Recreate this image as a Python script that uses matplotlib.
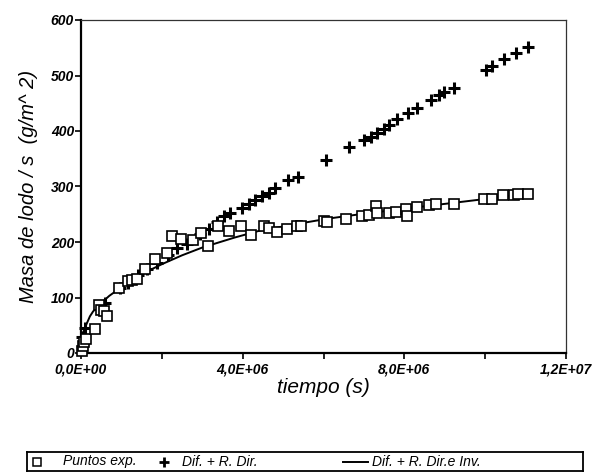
import matplotlib
matplotlib.use("Agg")
import matplotlib.pyplot as plt
from matplotlib.lines import Line2D

plt.rcParams['font.family'] = ['Liberation Sans', 'DejaVu Sans']

# experimental points (tiempo in 1e6 s, masa g/m^2)
exp_t = [0.02, 0.05, 0.08, 0.12, 0.35, 0.45, 0.50, 0.58, 0.64, 0.95, 1.16, 1.26, 1.38,
         1.59, 1.83, 2.12, 2.25, 2.47, 2.78, 2.97, 3.14, 3.38, 3.65, 3.97, 4.21, 4.52,
         4.65, 4.85, 5.10, 5.35, 5.45, 6.01, 6.08, 6.55, 6.96, 7.13, 7.29, 7.33, 7.62,
         7.79, 8.03, 8.07, 8.32, 8.61, 8.78, 9.23, 9.98, 10.18, 10.43, 10.72, 10.80, 11.05]
exp_y = [4, 12, 19, 26, 43, 86, 78, 76, 67, 118, 130, 131, 133,
         151, 169, 181, 210, 206, 203, 216, 193, 229, 220, 229, 213, 229,
         226, 218, 224, 229, 229, 238, 236, 242, 247, 248, 265, 253, 253,
         254, 260, 246, 263, 266, 268, 269, 277, 277, 284, 284, 287, 287]

# model: Dif. + R. Dir.
dir_t = [0.02, 0.10, 0.47, 0.60, 0.97, 1.17, 1.40, 1.63, 1.88, 2.15, 2.37, 2.62, 2.95,
         3.16, 3.36, 3.53, 3.69, 3.98, 4.15, 4.30, 4.48, 4.64, 4.81, 5.12, 5.36, 6.05,
         6.63, 7.00, 7.17, 7.33, 7.50, 7.62, 7.83, 8.08, 8.32, 8.65, 8.86, 8.98, 9.23,
         10.02, 10.18, 10.47, 10.76, 11.05]
dir_y = [28, 45, 82, 90, 118, 127, 140, 151, 162, 176, 190, 196, 215,
         223, 236, 247, 253, 262, 268, 275, 283, 289, 298, 311, 318, 348,
         372, 384, 390, 396, 403, 410, 421, 432, 441, 456, 465, 471, 477,
         510, 517, 529, 540, 552]

# model: Dif. + R. Dir. e Inv.
inv_t = [0.0, 0.05, 0.1, 0.22, 0.3, 0.5, 0.7, 0.93, 1.2, 1.5, 2.0, 2.5, 3.0, 3.8, 4.4,
         5.3, 6.1, 7.0, 7.9, 9.15, 10.06, 11.1]
inv_y = [15, 35, 46, 66, 75, 90, 103, 115, 130, 142, 160, 176, 190, 208, 220,
         232, 242, 251, 259, 270, 278, 287]

x_ticks = [0, 4e6, 8e6, 1.2e7]
x_labels = ["0,0E+00", "4,0E+06", "8,0E+06", "1,2E+07"]
x_minor = [2e6, 6e6, 1e7]
y_ticks = [0, 100, 200, 300, 400, 500, 600]

legend_labels = ["Puntos exp.", "Dif. + R. Dir.", "Dif. + R. Dir.e Inv."]

fig = plt.figure(figsize=(5.97, 4.72), dpi=100)
ax = fig.add_axes([81 / 597, 1 - 353 / 472, 485 / 597, 333 / 472])

ax.plot([t * 1e6 for t in inv_t], inv_y, color='black', linewidth=1.4, zorder=2)
ax.plot([t * 1e6 for t in dir_t], dir_y, linestyle='none', marker='+', markersize=8,
        markeredgewidth=2.2, color='black', zorder=3, clip_on=False)
ax.plot([t * 1e6 for t in exp_t], exp_y, linestyle='none', marker='s', markersize=7.5,
        markerfacecolor='white', markeredgecolor='black', markeredgewidth=1.2,
        zorder=4, clip_on=False)

ax.set_xlim(0, 1.2e7)
ax.set_ylim(0, 600)
ax.set_xticks(x_ticks)
ax.set_xticklabels(x_labels)
ax.set_xticks(x_minor, minor=True)
ax.set_yticks(y_ticks)
ax.set_yticklabels([str(v) for v in y_ticks])

for lab in ax.get_xticklabels() + ax.get_yticklabels():
  lab.set_fontsize(10)
  lab.set_fontweight('bold')
  lab.set_fontstyle('italic')

ax.tick_params(which='both', direction='out', length=4, width=1.2)
ax.tick_params(axis='y', pad=1)
ax.tick_params(axis='x', which='both', pad=3)

for side in ['left', 'bottom']:
  ax.spines[side].set_linewidth(1.6)
for side in ['top', 'right']:
  ax.spines[side].set_linewidth(0.9)
  ax.spines[side].set_color('#333333')

ax.set_xlabel("tiempo (s)", fontsize=15, fontstyle='italic', labelpad=1)
ax.set_ylabel("Masa de lodo / s  (g/m^ 2)", fontsize=14.5, fontstyle='italic', labelpad=9)

# legend box under the plot
lax = fig.add_axes([27 / 597, 1 - 471 / 472, 556 / 597, 19 / 472])
lax.set_xlim(0, 556)
lax.set_ylim(0, 19)
lax.set_xticks([])
lax.set_yticks([])
for s in lax.spines.values():
  s.set_linewidth(1.3)

lax.add_line(Line2D([10], [9.5], marker='s', markersize=5.5, markerfacecolor='white',
                    markeredgecolor='black', markeredgewidth=1.1, linestyle='none'))
lax.add_line(Line2D([137], [9.5], marker='+', markersize=7, markeredgewidth=2,
                    color='black', linestyle='none'))
lax.add_line(Line2D([316, 341], [9.5, 9.5], color='black', linewidth=1.4))
for xpos, text in zip([36, 155, 345], legend_labels):
  lax.text(xpos, 9.5, text, fontsize=10, fontstyle='italic', va='center', ha='left')

fig.savefig("out.png", dpi=100)
